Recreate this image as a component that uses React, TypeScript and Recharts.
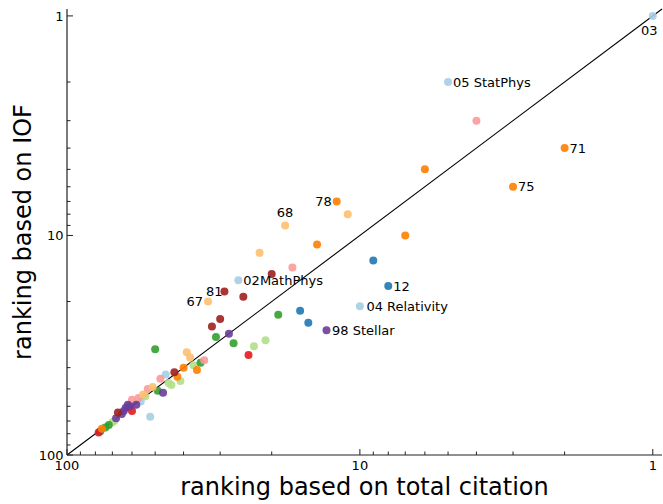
import React from 'react';
import { ScatterChart, Scatter, XAxis, YAxis, ReferenceLine, Label } from 'recharts';

// [rank by total citation, rank by IOF]
const lightBlue = [[1, 1], [5, 2], [26, 16], [10, 21], [46, 43], [56, 57], [52, 67]];
const blue = [[9, 13], [8, 17], [16, 22], [15, 25], [77, 78]];
const lightGreen = [[21, 30], [23, 32], [37, 39], [41, 46], [45, 47], [44, 48], [54, 54], [69, 70], [70, 71]];
const green = [[19, 23], [31, 29], [27, 31], [50, 33], [35, 38], [49, 51], [72, 73], [74, 75]];
const pink = [[4, 3], [17, 14], [34, 37], [48, 45], [53, 50], [57, 55], [60, 56]];
const red = [[24, 35], [60, 63], [78, 79]];
const lightOrange = [[11, 8], [18, 9], [22, 12], [33, 20], [39, 34], [38, 36], [51, 49], [55, 53]];
const orange = [[2, 4], [6, 5], [3, 6], [12, 7], [7, 10], [14, 11], [40, 40], [36, 41], [42, 44], [76, 76]];
const purple = [[13, 27], [28, 28], [47, 52], [58, 59], [62, 59], [61, 60], [63, 61], [64, 63], [65, 65], [68, 68]];
const darkRed = [[20, 15], [29, 18], [25, 19], [30, 24], [32, 26], [43, 42], [67, 64]];

const labelled = [
  { x: 1, y: 1, text: '03' },
  { x: 5, y: 2, text: '05 StatPhys' },
  { x: 2, y: 4, text: '71' },
  { x: 3, y: 6, text: '75' },
  { x: 12, y: 7, text: '78' },
  { x: 18, y: 9, text: '68' },
  { x: 8, y: 17, text: '12' },
  { x: 26, y: 16, text: '02MathPhys' },
  { x: 29, y: 18, text: '81' },
  { x: 33, y: 20, text: '67' },
  { x: 10, y: 21, text: '04 Relativity' },
  { x: 13, y: 27, text: '98 Stellar' },
];

const majorTicks = [1, 10, 100];
const minorTicks = [2, 3, 4, 5, 6, 7, 8, 9, 20, 30, 40, 50, 60, 70, 80, 90];
const domain: [number, number] = [0.93, 100];

const FONT = "'DejaVu Sans', sans-serif";
const AXIS = '#222';
const allTicks = [...majorTicks, ...minorTicks];

const series = [
  { name: 'lightBlue', pts: lightBlue, color: '#a6cee3' },
  { name: 'blue', pts: blue, color: '#1f78b4' },
  { name: 'lightGreen', pts: lightGreen, color: '#b2df8a' },
  { name: 'green', pts: green, color: '#33a02c' },
  { name: 'pink', pts: pink, color: '#fb9a99' },
  { name: 'red', pts: red, color: '#e31a1c' },
  { name: 'lightOrange', pts: lightOrange, color: '#fdbf6f' },
  { name: 'orange', pts: orange, color: '#ff7f00' },
  { name: 'purple', pts: purple, color: '#6a3d9a' },
  { name: 'darkRed', pts: darkRed, color: '#a02020' },
];

// where each annotation sits relative to its dot
const placement: Record<string, { dx: number; dy: number; anchor: string }> = {
  '03': { dx: -3.5, dy: 19, anchor: 'middle' },
  '68': { dx: 0, dy: -8, anchor: 'middle' },
  '78': { dx: -5, dy: 4.7, anchor: 'end' },
  '67': { dx: -5, dy: 4.7, anchor: 'end' },
  '81': { dx: -2, dy: 4.7, anchor: 'end' },
  '04 Relativity': { dx: 6.5, dy: 4.7, anchor: 'start' },
  '98 Stellar': { dx: 5.5, dy: 4.7, anchor: 'start' },
};

const isMajor = (v: number) => majorTicks.includes(v);
const tickLen = (v: number) => (isMajor(v) ? 6 : 3.5);

const BottomTick = (props: any) => {
  const { x, y, payload } = props;
  const v = payload.value;
  return (
    <g>
      <line x1={x} x2={x} y1={y} y2={y - tickLen(v)} stroke={AXIS} />
      {isMajor(v) && (
        <text x={x} y={y + 15} textAnchor="middle" fontSize={13} fontFamily={FONT} fill="#000">
          {v}
        </text>
      )}
    </g>
  );
};

const LeftTick = (props: any) => {
  const { x, y, payload } = props;
  const v = payload.value;
  return (
    <g>
      <line x1={x} x2={x + tickLen(v)} y1={y} y2={y} stroke={AXIS} />
      {isMajor(v) && (
        <text x={x - 3.5} y={y + 4.7} textAnchor="end" fontSize={13} fontFamily={FONT} fill="#000">
          {v}
        </text>
      )}
    </g>
  );
};

const TopTick = (props: any) => {
  const { x, y, payload } = props;
  return <line x1={x} x2={x} y1={y} y2={y + tickLen(payload.value)} stroke={AXIS} />;
};

const RightTick = (props: any) => {
  const { x, y, payload } = props;
  return <line x1={x} x2={x - tickLen(payload.value)} y1={y} y2={y} stroke={AXIS} />;
};

const Dot = (color: string) => (props: any) => (
  <circle cx={props.cx} cy={props.cy} r={4} fill={color} fillOpacity={0.9} />
);

const Annotation = (props: any) => {
  const text = props.payload.text;
  const p = placement[text] || { dx: 5, dy: 4.7, anchor: 'start' };
  return (
    <text
      x={props.cx + p.dx}
      y={props.cy + p.dy}
      textAnchor={p.anchor as any}
      fontSize={13}
      fontFamily={FONT}
      fill="#000"
    >
      {text}
    </text>
  );
};

const axisCommon = {
  type: 'number' as const,
  scale: 'log' as const,
  domain,
  reversed: true,
  allowDataOverflow: true,
  ticks: allTicks,
  interval: 0 as const,
  tickLine: false,
  tickSize: 0,
  tickMargin: 0,
  axisLine: { stroke: AXIS, strokeWidth: 1.2 },
};

export default function App() {
  return (
    <div style={{ position: 'absolute', left: 0, top: 0, width: 663, height: 504, background: '#fff' }}>
      <ScatterChart width={663} height={504} margin={{ top: 9, right: 1, bottom: 0, left: 0 }}>
        <XAxis {...axisCommon} dataKey="x" orientation="bottom" height={49} tick={BottomTick}>
          <Label
            content={(p: any) => (
              <text
                x={p.viewBox.x + p.viewBox.width / 2}
                y={495}
                textAnchor="middle"
                fontSize={24}
                fontFamily={FONT}
                fill="#000"
              >
                ranking based on total citation
              </text>
            )}
          />
        </XAxis>
        <YAxis {...axisCommon} dataKey="y" orientation="left" width={67} tick={LeftTick}>
          <Label
            content={(p: any) => {
              const cy = p.viewBox.y + p.viewBox.height / 2;
              return (
                <text
                  x={31}
                  y={cy}
                  transform={`rotate(-90 31 ${cy})`}
                  textAnchor="middle"
                  fontSize={24}
                  fontFamily={FONT}
                  fill="#000"
                >
                  ranking based on IOF
                </text>
              );
            }}
          />
        </YAxis>
        <XAxis {...axisCommon} xAxisId="top" dataKey="x" orientation="top" height={0} tick={TopTick} />
        <YAxis {...axisCommon} yAxisId="right" dataKey="y" orientation="right" width={0} tick={RightTick} />
        {series.map((s) => (
          <Scatter
            key={s.name}
            name={s.name}
            data={s.pts.map(([x, y]) => ({ x, y }))}
            shape={Dot(s.color)}
            isAnimationActive={false}
          />
        ))}
        <ReferenceLine
          segment={[
            { x: domain[1], y: domain[1] },
            { x: domain[0], y: domain[0] },
          ]}
          stroke="#000"
          strokeWidth={1.1}
          ifOverflow="visible"
        />
        <Scatter data={labelled} shape={Annotation} isAnimationActive={false} />
      </ScatterChart>
    </div>
  );
}
